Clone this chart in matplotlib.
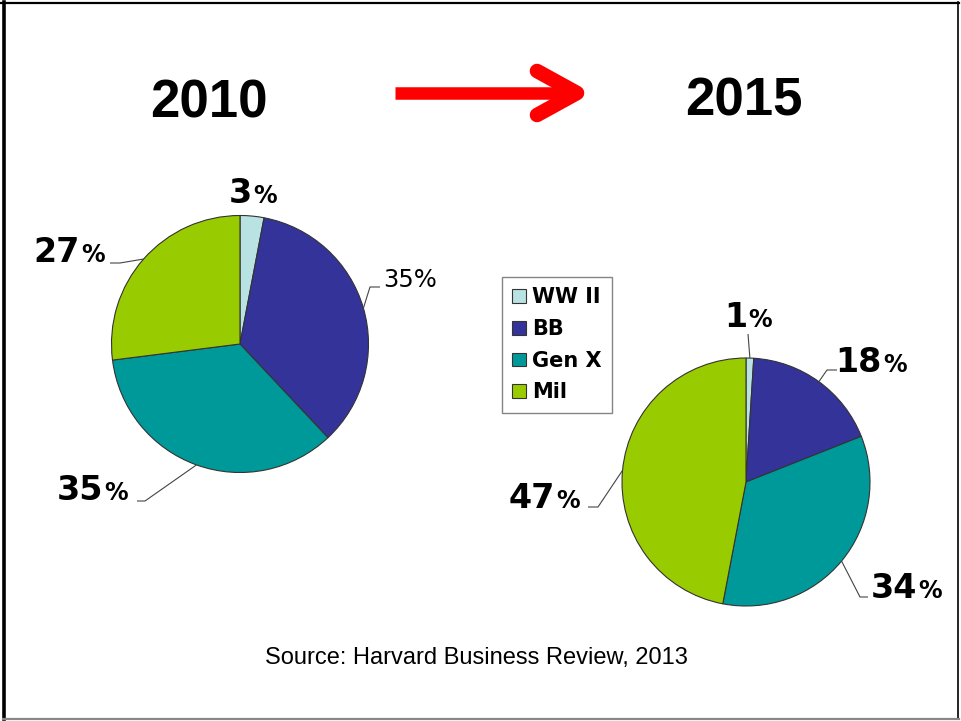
import matplotlib
matplotlib.use('Agg')
import matplotlib.pyplot as plt
import numpy as np

# ---------------- data ----------------
categories = ['WW II', 'BB', 'Gen X', 'Mil']
colors = ['#B9E2E2', '#333399', '#009999', '#99CC00']
years = ['2010', '2015']
values_2010 = [3, 35, 35, 27]
values_2015 = [1, 18, 34, 47]
source = 'Source: Harvard Business Review, 2013'

# ---------------- layout ----------------
W, H = 961, 721
fig = plt.figure(figsize=(W / 100, H / 100), dpi=100)
ax = fig.add_axes([0, 0, 1, 1])


def py(y):
    """top-down pixel row -> data y"""
    return H - y


BOLD = 'DejaVu Sans'
# per-label layout: (number right-edge x, baseline y, bold?, leader elbow points)
layout_2010 = [
    dict(x=252, y=203, bold=True, leader=[]),
    dict(x=383, y=287, bold=False, leader=[(370, 287), (380, 287)]),
    dict(x=103, y=500, bold=True, leader=[(145, 501), (137, 501)]),
    dict(x=80, y=262, bold=True, leader=[(120, 263), (110, 263)]),
]
layout_2015 = [
    dict(x=747, y=327, bold=True, leader=[(748, 334)]),
    dict(x=882, y=372, bold=True, leader=[(827, 370), (837, 370)]),
    dict(x=917, y=598, bold=True, leader=[(860, 597), (868, 597)]),
    dict(x=555, y=508, bold=True, leader=[(598, 507), (588, 507)]),
]

pies = [
    dict(values=values_2010, cx=240, cy=344, r=128.5, layout=layout_2010),
    dict(values=values_2015, cx=746, cy=482, r=124, layout=layout_2015),
]

legend_handles = None
for p in pies:
    wedges, _ = ax.pie(p['values'], colors=colors, startangle=90, counterclock=False,
                       center=(p['cx'], py(p['cy'])), radius=p['r'],
                       wedgeprops=dict(edgecolor='#333333', linewidth=0.8),
                       frame=False)
    if legend_handles is None:
        legend_handles = wedges
    for w, v, lay in zip(wedges, p['values'], p['layout']):
        mid = np.deg2rad((w.theta1 + w.theta2) / 2)
        ex = p['cx'] + p['r'] * np.cos(mid)
        ey = py(p['cy']) + p['r'] * np.sin(mid)
        if lay['leader']:
            xs = [ex] + [q[0] for q in lay['leader']]
            ys = [ey] + [py(q[1]) for q in lay['leader']]
            ax.plot(xs, ys, color='#444444', lw=0.8, solid_capstyle='butt')
        if lay['bold']:
            ax.text(lay['x'], py(lay['y']), f'{v}', ha='right', va='baseline',
                    fontsize=24, fontweight='bold', family=BOLD, color='black')
            ax.text(lay['x'] + 1.5, py(lay['y']), '%', ha='left', va='baseline',
                    fontsize=17, fontweight='bold', family=BOLD, color='black')
        else:
            ax.text(lay['x'], py(lay['y']), f'{v}%', ha='left', va='baseline',
                    fontsize=17.5, family=BOLD, color='black')

ax.set_xlim(0, W)
ax.set_ylim(0, H)
ax.set_aspect('auto')
ax.set_axis_off()

# titles
ax.text(209, py(118), years[0], ha='center', va='baseline', fontsize=38,
        fontweight='bold', family='Liberation Sans')
ax.text(744, py(115), years[1], ha='center', va='baseline', fontsize=38,
        fontweight='bold', family='Liberation Sans')

# red arrow
ax.plot([395, 572], [py(93), py(93)], color='#FF0000', lw=9.0, solid_capstyle='butt')
ax.plot([537, 577, 537], [py(71), py(93), py(115)], color='#FF0000', lw=10.5,
        solid_capstyle='round', solid_joinstyle='round')

# legend
leg = ax.legend(legend_handles, categories, loc='upper left',
                bbox_to_anchor=(502 / W, 1 - 277 / H), bbox_transform=fig.transFigure,
                prop=dict(family=BOLD, weight='bold', size=15),
                handlelength=0.63, handleheight=0.63, handletextpad=0.3,
                labelspacing=0.56, borderpad=0.5, borderaxespad=0,
                fancybox=False, shadow=False, frameon=True)
leg.get_frame().set_edgecolor('#666666')
leg.get_frame().set_linewidth(1.0)

# source
ax.text(476, py(664), source, ha='center', va='baseline', fontsize=17,
        family='Liberation Sans', color='black')

# slide border
ax.plot([0, 959], [py(3), py(3)], color='black', lw=1.6, clip_on=False)
ax.plot([4, 4], [py(2), py(719)], color='black', lw=2.6, clip_on=False)
ax.plot([958, 958], [py(2), py(719)], color='black', lw=1.2, clip_on=False)
ax.plot([3, 959], [py(719), py(719)], color='#888888', lw=1.6, clip_on=False)

fig.savefig('out.png', dpi=100, facecolor='white')
